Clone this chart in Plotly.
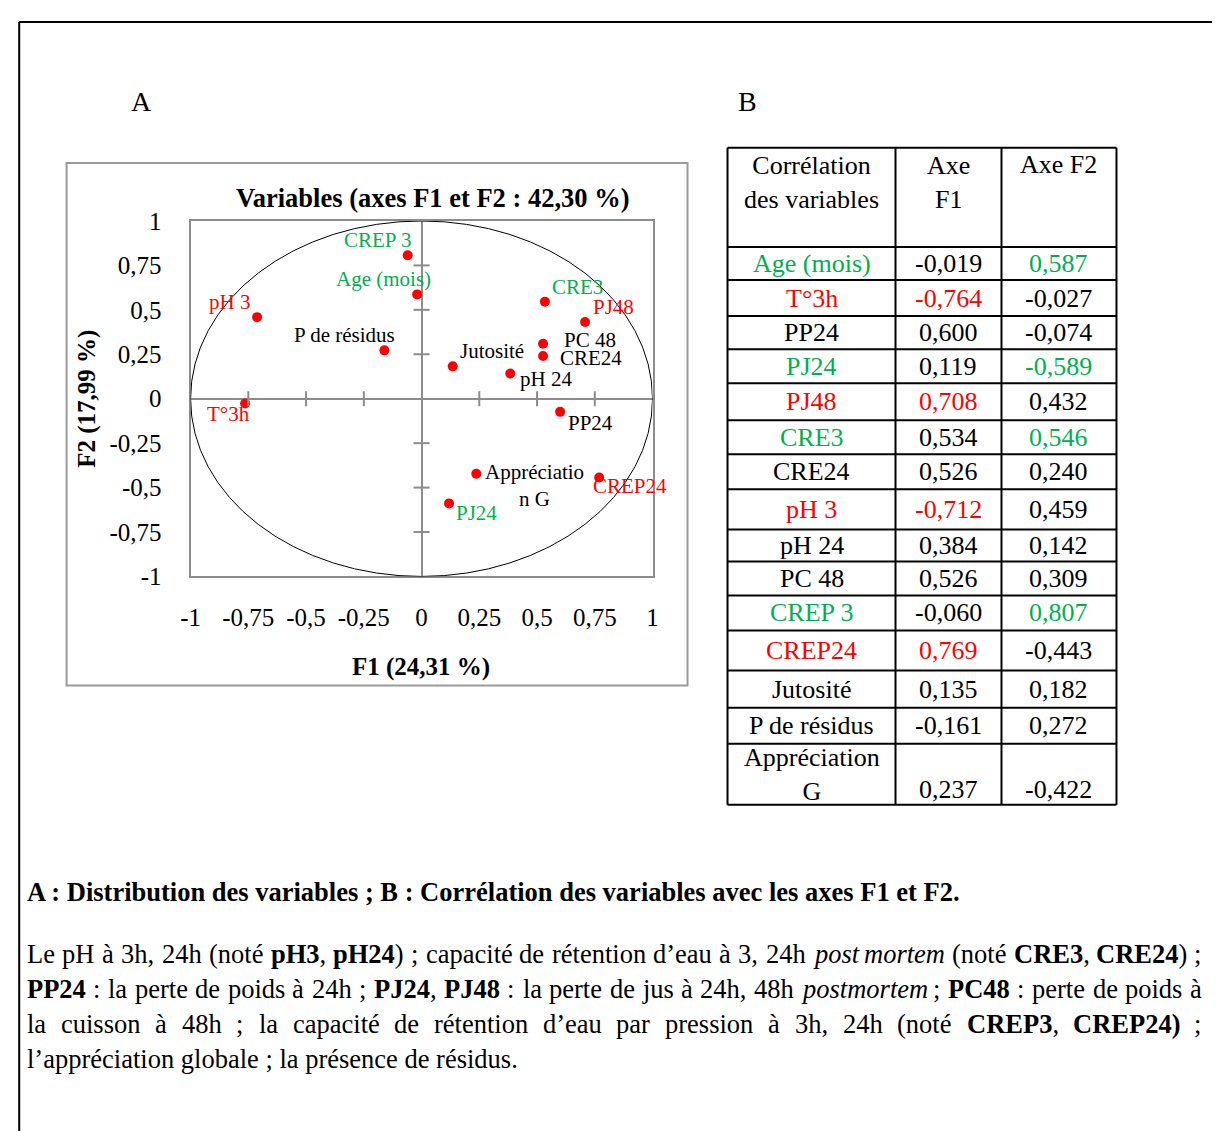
import plotly.graph_objects as go

# ---------------- data ----------------
variables = ["Age (mois)", "T°3h", "PP24", "PJ24", "PJ48", "CRE3", "CRE24", "pH 3",
             "pH 24", "PC 48", "CREP 3", "CREP24", "Jutosité", "P de résidus", "Appréciation G"]
f1 = [-0.019, -0.764, 0.600, 0.119, 0.708, 0.534, 0.526, -0.712,
      0.384, 0.526, -0.060, 0.769, 0.135, -0.161, 0.237]
f2 = [0.587, -0.027, -0.074, -0.589, 0.432, 0.546, 0.240, 0.459,
      0.142, 0.309, 0.807, -0.443, 0.182, 0.272, -0.422]
# highlighted cells: 'g' green, 'r' red, '' none  (name, F1, F2)
highlight = [("g", "", "g"), ("r", "r", ""), ("", "", ""), ("g", "", "g"), ("r", "r", ""),
             ("g", "", "g"), ("", "", ""), ("r", "r", ""), ("", "", ""), ("", "", ""),
             ("g", "", "g"), ("r", "r", ""), ("", "", ""), ("", "", ""), ("", "", "")]
tick_vals = [-1, -0.75, -0.5, -0.25, 0, 0.25, 0.5, 0.75, 1]
tick_text = ["-1", "-0,75", "-0,5", "-0,25", "0", "0,25", "0,5", "0,75", "1"]
table_header = ["Corrélation<br>des variables", "Axe<br>F1", "Axe F2"]

caption_title = "A : Distribution des variables ; B : Corrélation des variables avec les axes F1 et F2."
caption_body = [  # runs of (text, style): '' regular, 'b' bold, 'i' italic
    [("Le pH à 3h, 24h (noté ", ""), ("pH3", "b"), (", ", ""), ("pH24", "b"),
     (") ; capacité de rétention d’eau à 3, 24h ", ""), ("post mortem", "i"), (" (noté ", ""),
     ("CRE3", "b"), (", ", ""), ("CRE24", "b"), (") ;", "")],
    [("PP24", "b"), (" : la perte de poids à 24h ; ", ""), ("PJ24", "b"), (", ", ""), ("PJ48", "b"),
     (" : la perte de jus à 24h, 48h ", ""), ("postmortem", "i"), (" ; ", ""), ("PC48", "b"),
     (" : perte de poids à", "")],
    [("la cuisson à 48h ; la capacité de rétention d’eau par pression à 3h, 24h (noté ", ""),
     ("CREP3", "b"), (", ", ""), ("CREP24)", "b"), (" ;", "")],
    [("l’appréciation globale ; la présence de résidus.", "")],
]

# ---------------- styles / layout ----------------
OFF = 8
FW, FH = 1220, 1140
FONT = "Liberation Serif, Times New Roman, serif"
GREEN = "#00b050"
RED = "#ff0000"
GRAY = "#8c8c8c"
CMAP = {"g": GREEN, "r": RED, "": "black"}

label_text = {"Appréciation G": "Appréciatio<br>n G"}
label_off = {   # (dx right, dy up) in pixels
    "CREP 3": (-30, 15), "Age (mois)": (-34, 15), "pH 3": (-28, 15), "T°3h": (-17, -10),
    "P de résidus": (-40, 15), "Jutosité": (39, 15), "CRE3": (33, 15), "PJ48": (28, 15),
    "PC 48": (47, 4), "CRE24": (48, -2), "pH 24": (36, -6), "PP24": (30, -11),
    "Appréciation G": (58, -12), "CREP24": (31, -9), "PJ24": (27, -10),
}

col_edges = [727, 895, 1001, 1116]
row_edges = [149, 248, 281, 317, 350, 384, 421, 455, 490, 530, 562, 596, 631, 671, 708, 744, 805]

# mapping of target-picture pixels to paper coordinates (compensates the capture transform)
SX, AX = 0.987, 9.5
SY, AY = 0.975, 14.5


def px(x):
    return max(0.001, ((x - AX) / SX - OFF) / FW)


def py(y):
    return min(0.999, 1 - ((y - AY) / SY - OFF) / FH)


fig = go.Figure()
fig.add_trace(go.Scatter(
    x=f1, y=f2, mode="markers", marker=dict(color=RED, size=10),
    hovertext=variables, showlegend=False,
))

axis_common = dict(
    range=[-1, 1], tickvals=tick_vals, ticktext=tick_text,
    showgrid=False, zeroline=True, zerolinecolor=GRAY, zerolinewidth=2,
    showline=True, linecolor=GRAY, linewidth=2, mirror=True,
    ticks="", tickfont=dict(family=FONT, size=25, color="black"),
    fixedrange=True,
)
fig.update_layout(
    width=FW, height=FH, margin=dict(l=0, r=0, t=0, b=0), autosize=False,
    paper_bgcolor="white", plot_bgcolor="white",
    xaxis=dict(domain=[px(190), px(652)], anchor="y", ticklabelstandoff=18, **axis_common),
    yaxis=dict(domain=[py(577), py(222)], anchor="x", ticklabelstandoff=22, **axis_common),
    font=dict(family=FONT, color="black"),
)

shapes = []
shapes.append(dict(type="circle", xref="x", yref="y", x0=-1, x1=1, y0=-1, y1=1,
                   line=dict(color="black", width=1)))
for t in tick_vals:
    if t in (-1, 0, 1):
        continue
    shapes.append(dict(type="line", xref="x", yref="y", x0=t, x1=t,
                       ysizemode="pixel", yanchor=0, y0=-7.5, y1=7.5,
                       line=dict(color=GRAY, width=2)))
    shapes.append(dict(type="line", xref="x", yref="y", y0=t, y1=t,
                       xsizemode="pixel", xanchor=0, x0=-8, x1=8,
                       line=dict(color=GRAY, width=2)))
shapes.append(dict(type="rect", xref="paper", yref="paper", x0=px(66), x1=px(687), y0=py(686), y1=py(164),
                   line=dict(color="#9a9a9a", width=2), layer="below"))
shapes.append(dict(type="line", xref="paper", yref="paper", x0=px(7), x1=1, y0=py(6), y1=py(6),
                   line=dict(color="black", width=2)))
shapes.append(dict(type="line", xref="paper", yref="paper", x0=px(7), x1=px(7), y0=py(6), y1=0,
                   line=dict(color="black", width=2)))
for cx in col_edges:
    shapes.append(dict(type="line", xref="paper", yref="paper", x0=px(cx), x1=px(cx),
                       y0=py(row_edges[0]), y1=py(row_edges[-1]), line=dict(color="black", width=2)))
for ry in row_edges:
    shapes.append(dict(type="line", xref="paper", yref="paper", x0=px(col_edges[0]), x1=px(col_edges[-1]),
                       y0=py(ry), y1=py(ry), line=dict(color="black", width=2)))
fig.update_layout(shapes=shapes)

ann = []


def text_at(x, y, t, size, color="black", xanchor="center", **kw):
    ann.append(dict(x=px(x), y=py(y), xref="paper", yref="paper", showarrow=False, text=t,
                    xanchor=xanchor, yanchor="middle", align=xanchor if xanchor != "center" else "center",
                    font=dict(family=FONT, size=size, color=color), **kw))


for v, a, b, h in zip(variables, f1, f2, highlight):
    dx, dy = label_off[v]
    ann.append(dict(x=a, y=b, xref="x", yref="y", text=label_text.get(v, v), showarrow=False,
                    xshift=dx, yshift=dy, xanchor="center", yanchor="middle", align="center",
                    font=dict(family=FONT, size=21, color=CMAP[h[0]])))

text_at(432, 199, "<b>Variables (axes F1 et F2 : 42,30 %)</b>", 26.5)
text_at(420, 667, "<b>F1 (24,31 %)</b>", 25)
text_at(87, 400, "<b>F2 (17,99 %)</b>", 25, textangle=-90)
text_at(141, 103, "A", 28)
text_at(747, 103, "B", 28)

col_mid = [(col_edges[i] + col_edges[i + 1]) / 2 for i in range(3)]
text_at(col_mid[0], 184, table_header[0], 26)
text_at(col_mid[1], 184, table_header[1], 26)
text_at(col_mid[2], 166, table_header[2], 26)


def fmt(v):
    return f"{v:.3f}".replace(".", ",")


for i, (v, a, b, h) in enumerate(zip(variables, f1, f2, highlight)):
    top, bot = row_edges[i + 1], row_edges[i + 2]
    mid = (top + bot) / 2
    if v == "Appréciation G":
        text_at(col_mid[0], mid, "Appréciation<br>G", 26, CMAP[h[0]])
        vy = bot - 15
    else:
        text_at(col_mid[0], mid, v, 26, CMAP[h[0]])
        vy = mid
    text_at(col_mid[1], vy, fmt(a), 26, CMAP[h[1]])
    text_at(col_mid[2], vy, fmt(b), 26, CMAP[h[2]])

# ---------------- caption (justified) ----------------
CAP_SIZE = 26.5
REG = dict(zip("abcdefghijklmnopqrstuvwxyz",
               [444, 500, 444, 500, 444, 333, 500, 500, 278, 278, 500, 278, 778, 500, 500, 500, 500, 333,
                389, 278, 500, 500, 722, 500, 500, 444]))
REG.update(dict(zip("ABCDEFGHIJKLMNOPQRSTUVWXYZ",
                    [722, 667, 667, 722, 611, 556, 722, 722, 333, 389, 722, 611, 889, 722, 722, 556, 722, 667,
                     556, 611, 722, 722, 944, 722, 722, 611])))
REG.update({" ": 250, "(": 333, ")": 333, ",": 250, ".": 250, ":": 278, ";": 278, "’": 333, "-": 333,
            "é": 444, "à": 444, "è": 444})
REG.update({d: 500 for d in "0123456789"})
BOLD = dict(zip("abcdefghijklmnopqrstuvwxyz",
                [500, 556, 444, 556, 444, 333, 500, 556, 278, 333, 556, 278, 833, 556, 500, 556, 556, 444,
                 389, 333, 556, 500, 722, 500, 500, 444]))
BOLD.update(dict(zip("ABCDEFGHIJKLMNOPQRSTUVWXYZ",
                     [722, 667, 722, 722, 667, 611, 778, 778, 389, 500, 778, 667, 944, 722, 778, 611, 778, 722,
                      556, 667, 722, 722, 1000, 722, 722, 667])))
BOLD.update({" ": 250, "(": 333, ")": 333, ",": 250, ".": 250, ":": 333, ";": 333, "é": 444})
BOLD.update({d: 500 for d in "0123456789"})
ITAL = dict(zip("abcdefghijklmnopqrstuvwxyz",
                [500, 500, 444, 500, 444, 278, 500, 500, 278, 278, 444, 278, 722, 500, 500, 500, 500, 389,
                 389, 278, 500, 444, 667, 444, 444, 389]))
ITAL.update({" ": 250})
METRICS = {"": REG, "b": BOLD, "i": ITAL}
TAGS = {"": ("", ""), "b": ("<b>", "</b>"), "i": ("<i>", "</i>")}


def split_words(runs):
    words, cur = [], []
    for txt, st in runs:
        for ch in txt:
            if ch == " ":
                if cur:
                    words.append(cur)
                cur = []
            else:
                if cur and cur[-1][1] == st:
                    cur[-1] = (cur[-1][0] + ch, st)
                else:
                    cur.append((ch, st))
    if cur:
        words.append(cur)
    return words


def word_width(word):
    return sum(METRICS[st].get(ch, 500) for txt, st in word for ch in txt) / 1000 * CAP_SIZE * SX


def word_html(word):
    return "".join(TAGS[st][0] + txt + TAGS[st][1] for txt, st in word)


LEFT, RIGHT, PAD = 28, 1203, 4
text_at(LEFT - PAD, 892, "<b>" + caption_title + "</b>", CAP_SIZE, xanchor="left")
body_y = [954, 989, 1024, 1059]
for li, (runs, yy) in enumerate(zip(caption_body, body_y)):
    if li == len(caption_body) - 1:
        text_at(LEFT - PAD, yy, "".join(TAGS[st][0] + t + TAGS[st][1] for t, st in runs),
                CAP_SIZE, xanchor="left")
        continue
    words = split_words(runs)
    widths = [word_width(w) for w in words]
    gap = (RIGHT - LEFT - sum(widths)) / (len(words) - 1)
    x = LEFT
    for w, wd in zip(words, widths):
        text_at(x - PAD, yy, word_html(w), CAP_SIZE, xanchor="left")
        x += wd + gap

fig.update_layout(annotations=ann)
fig.write_html("out.html")
